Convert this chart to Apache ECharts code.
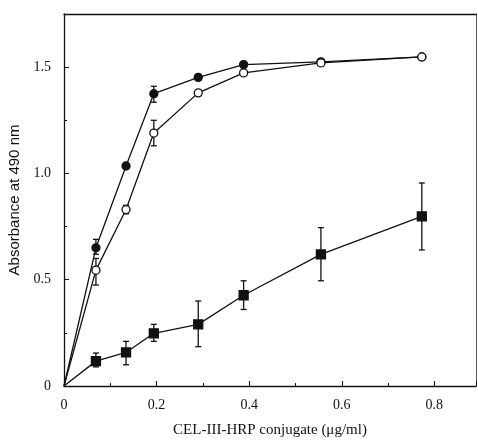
<!DOCTYPE html>
<html>
<head>
<meta charset="utf-8">
<script src="https://cdn.jsdelivr.net/npm/echarts@6/dist/echarts.min.js"></script>
<style>
  html, body { margin: 0; padding: 0; background: #fff; }
  #chart { width: 478px; height: 442px; }
</style>
</head>
<body>
<div id="chart"></div>
<script>
// conjugate concentration (ug/ml)
const conc = [0, 0.069, 0.134, 0.194, 0.29, 0.388, 0.555, 0.773];

const filledVals = [0, 0.65, 1.035, 1.375, 1.452, 1.512, 1.525, 1.548];
const openVals = [0, 0.545, 0.83, 1.19, 1.379, 1.473, 1.52, 1.548];
const squareVals = [0, 0.117, 0.158, 0.248, 0.29, 0.427, 0.619, 0.798];

// error bars, null = none drawn
const filledLow = [null, 0.62, null, 1.335, null, null, null, null];
const filledHigh = [null, 0.69, null, 1.41, null, null, null, null];
const openLow = [null, 0.475, 0.81, 1.13, null, null, null, null];
const openHigh = [null, 0.60, 0.85, 1.25, null, null, null, null];
const squareLow = [null, 0.09, 0.10, 0.21, 0.185, 0.36, 0.495, 0.64];
const squareHigh = [null, 0.155, 0.21, 0.29, 0.40, 0.495, 0.745, 0.955];

const xTicks = ['0', '0.2', '0.4', '0.6', '0.8'];
const yTicks = ['0', '0.5', '1.0', '1.5'];

const ink = '#111';
const serif = '"Liberation Serif", "DejaVu Serif", serif';

const pts = vals => conc.map((x, i) =>
  i === 0 ? { value: [x, vals[i]], symbol: 'none' } : [x, vals[i]]);

const bars = (lo, hi) => conc
  .map((x, i) => [x, lo[i], hi[i]])
  .filter(d => d[1] != null);

function errorBar(params, api) {
  const x = api.value(0);
  const lo = api.coord([x, api.value(1)]);
  const hi = api.coord([x, api.value(2)]);
  const w = 3;
  const st = { stroke: ink, lineWidth: 1.3 };
  return {
    type: 'group',
    children: [
      { type: 'line', shape: { x1: lo[0], y1: lo[1], x2: hi[0], y2: hi[1] }, style: st },
      { type: 'line', shape: { x1: lo[0] - w, y1: lo[1], x2: lo[0] + w, y2: lo[1] }, style: st },
      { type: 'line', shape: { x1: hi[0] - w, y1: hi[1], x2: hi[0] + w, y2: hi[1] }, style: st }
    ]
  };
}

const lineSeries = (vals, symbol, fill, size, z) => ({
  type: 'line',
  data: pts(vals),
  symbol: symbol,
  symbolSize: size,
  showAllSymbol: true,
  z: z,
  lineStyle: { color: ink, width: 1.3 },
  itemStyle: { color: fill, borderColor: ink, borderWidth: 1.3 },
  emphasis: { disabled: true },
  animation: false
});

const errSeries = data => ({
  type: 'custom',
  data: data,
  renderItem: errorBar,
  z: 1,
  animation: false
});

const chart = echarts.init(document.getElementById('chart'));
chart.setOption({
  backgroundColor: '#fff',
  grid: { left: 64, right: 2, top: 14, bottom: 56, outerBoundsMode: 'none', containLabel: false },
  xAxis: [{
    type: 'value',
    min: 0, max: 0.89, interval: 0.2,
    name: 'CEL-III-HRP conjugate (\u03bcg/ml)',
    nameLocation: 'middle',
    nameGap: 37,
    nameTextStyle: { color: ink, fontFamily: serif, fontSize: 15 },
    axisLine: { lineStyle: { color: ink, width: 1.3 } },
    axisTick: { inside: true, length: 5, lineStyle: { color: ink } },
    minorTick: { show: true, splitNumber: 2, length: 3, lineStyle: { color: ink } },
    splitLine: { show: false },
    axisLabel: {
      color: ink, fontFamily: serif, fontSize: 14, margin: 12,
      showMaxLabel: false,
      formatter: v => (v > 0.85 ? '' : xTicks[Math.round(v / 0.2)] || '')
    }
  }, {
    type: 'value', position: 'top', min: 0, max: 0.89,
    axisLine: { show: true, onZero: false, lineStyle: { color: ink, width: 1.3 } },
    axisTick: { show: false }, axisLabel: { show: false }, splitLine: { show: false }
  }],
  yAxis: [{
    type: 'value',
    min: 0, max: 1.75, interval: 0.5,
    name: 'Absorbance at 490 nm',
    nameLocation: 'middle',
    nameGap: 34,
    nameTextStyle: { color: ink, fontFamily: '"Liberation Sans", Arial, sans-serif', fontSize: 15 },
    axisLine: { show: true, lineStyle: { color: ink, width: 1.3 } },
    axisTick: { show: true, inside: true, length: 5, lineStyle: { color: ink } },
    minorTick: { show: true, splitNumber: 2, length: 3, lineStyle: { color: ink } },
    splitLine: { show: false },
    axisLabel: {
      color: ink, fontFamily: serif, fontSize: 14, margin: 13,
      showMaxLabel: false,
      formatter: v => (v > 1.6 ? '' : yTicks[Math.round(v / 0.5)] || '')
    }
  }, {
    type: 'value', position: 'right', min: 0, max: 1.75,
    axisLine: { show: true, onZero: false, lineStyle: { color: '#555', width: 1 } },
    axisTick: { show: false }, axisLabel: { show: false }, splitLine: { show: false }
  }],
  series: [
    errSeries(bars(squareLow, squareHigh)),
    errSeries(bars(openLow, openHigh)),
    errSeries(bars(filledLow, filledHigh)),
    lineSeries(squareVals, 'rect', ink, 9, 3),
    lineSeries(filledVals, 'circle', ink, 8, 4),
    lineSeries(openVals, 'circle', '#fff', 8, 5)
  ]
});
</script>
</body>
</html>
